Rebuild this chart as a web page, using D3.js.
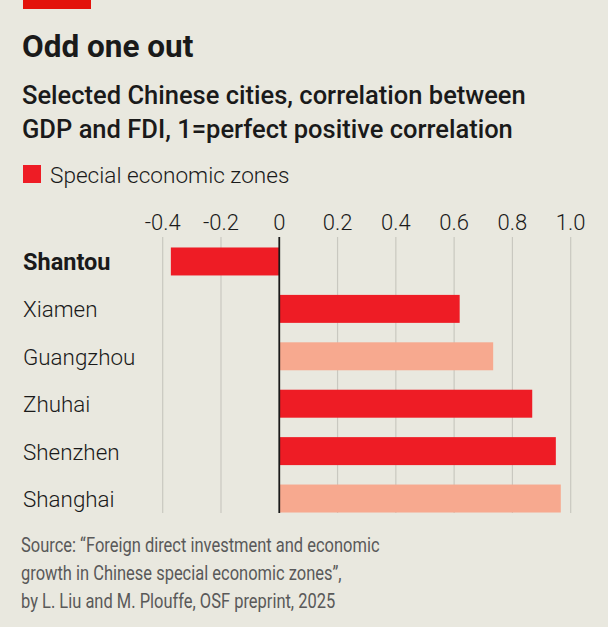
<!DOCTYPE html>
<html>
<head>
<meta charset="utf-8">
<script src="https://cdn.jsdelivr.net/npm/d3@7"></script>
<style>
  body { margin: 0; background: #e9e8df; }
  svg { display: block; }
  text { font-family: Roboto, "Noto Sans", sans-serif; fill: #1a1a1a; }
</style>
</head>
<body>
<div id="chart"></div>
<script>
const cities = ["Shantou", "Xiamen", "Guangzhou", "Zhuhai", "Shenzhen", "Shanghai"];
const correlation = [-0.372, 0.619, 0.734, 0.868, 0.949, 0.966];
const specialZone = [true, true, false, true, true, false];
const tickValues = [-0.4, -0.2, 0, 0.2, 0.4, 0.6, 0.8, 1.0];
const tickLabels = ["-0.4", "-0.2", "0", "0.2", "0.4", "0.6", "0.8", "1.0"];
const sourceLines = [
  "Source: \u201cForeign direct investment and economic",
  "growth in Chinese special economic zones\u201d,",
  "by L. Liu and M. Plouffe, OSF preprint, 2025"
];

const W = 608, H = 627;
const svg = d3.select("#chart").append("svg")
  .attr("width", W).attr("height", H);

svg.append("rect").attr("width", W).attr("height", H).attr("fill", "#e9e8df");

// red tag top-left
svg.append("rect").attr("x", 23).attr("y", 0).attr("width", 68).attr("height", 9).attr("fill", "#e3120b");

svg.append("text").attr("x", 22).attr("y", 57)
  .style("font-size", "31.5px").style("font-weight", 700)
  .text("Odd one out");

const sub = svg.append("text").style("font-size", "25.5px").style("font-weight", 500);
sub.append("tspan").attr("x", 22).attr("y", 104).text("Selected Chinese cities, correlation between");
sub.append("tspan").attr("x", 22).attr("y", 138).text("GDP and FDI, 1=perfect positive correlation");

// legend
svg.append("rect").attr("x", 23).attr("y", 165).attr("width", 18).attr("height", 18).attr("fill", "#ee1c25");
svg.append("text").attr("x", 50).attr("y", 183)
  .style("font-size", "22.6px").style("font-weight", 300)
  .text("Special economic zones");

const x = d3.scaleLinear().domain([-0.4, 1.0]).range([162.7, 570.7]);
const y = d3.scaleBand().domain(cities).range([238, 522]).paddingInner(0.41).paddingOuter(0.2);

const data = cities.map((c, i) => ({ city: c, value: correlation[i], sez: specialZone[i] }));

// gridlines
svg.append("g").selectAll("line")
  .data(tickValues.filter(v => v !== 0))
  .join("line")
  .attr("x1", d => x(d)).attr("x2", d => x(d))
  .attr("y1", 237).attr("y2", 513)
  .attr("stroke", "#c9c8c0").attr("stroke-width", 1.2);

// tick labels
svg.append("g").selectAll("text")
  .data(tickValues)
  .join("text")
  .attr("x", d => x(d)).attr("y", 230)
  .attr("text-anchor", "middle")
  .style("font-size", "22px").style("font-weight", 300)
  .text((d, i) => tickLabels[i]);

// bars
svg.append("g").selectAll("rect")
  .data(data)
  .join("rect")
  .attr("x", d => x(Math.min(0, d.value)))
  .attr("width", d => Math.abs(x(d.value) - x(0)))
  .attr("y", d => y(d.city))
  .attr("height", y.bandwidth())
  .attr("fill", d => d.sez ? "#ee1c25" : "#f7a98f");

// zero line
svg.append("line")
  .attr("x1", x(0)).attr("x2", x(0))
  .attr("y1", 237).attr("y2", 513)
  .attr("stroke", "#1a1a1a").attr("stroke-width", 1.8);

// category labels
svg.append("g").selectAll("text")
  .data(data)
  .join("text")
  .attr("x", 23)
  .attr("y", d => y(d.city) + y.bandwidth() / 2 + 8.5)
  .style("font-size", (d, i) => i === 0 ? "23.5px" : "22.4px")
  .style("font-weight", (d, i) => i === 0 ? 700 : 300)
  .text(d => d.city);

// source, condensed by a horizontal squeeze
svg.append("g")
  .attr("transform", "translate(21,0) scale(0.845,1)")
  .selectAll("text")
  .data(sourceLines)
  .join("text")
  .attr("x", 0).attr("y", (d, i) => 552 + i * 28)
  .style("font-size", "19.5px")
  .style("fill", "#595959")
  .text(d => d);
</script>
</body>
</html>
